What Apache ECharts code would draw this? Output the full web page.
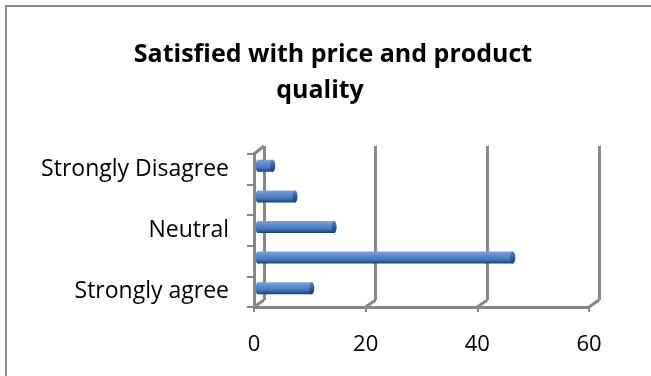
<!DOCTYPE html>
<html>
<head>
<meta charset="utf-8">
<script src="https://cdn.jsdelivr.net/npm/echarts@6/dist/echarts.min.js"></script>
<style>
  html, body { margin: 0; padding: 0; background: #ffffff; }
  #chart { width: 651px; height: 376px; }
</style>
</head>
<body>
<div id="chart"></div>
<script>
// Survey answers, bottom to top
const categories = ['Strongly agree', 'Agree', 'Neutral', 'Disagree', 'Strongly Disagree'];
const responses = [10, 46, 14, 7, 3];
const valueTicks = [0, 20, 40, 60];
const titleLines = ['Satisfied with price and product', 'quality'];

const FONT = '"Open Sans", "Liberation Sans", sans-serif';
const AXIS_GREY = '#878787';

// Plot geometry: front face, back wall, and the mid plane where the bars sit
const front = { left: 254, top: 154, width: 335, height: 153 };
const depth = { dx: 10, dy: -8 };
const back = { left: front.left + depth.dx, top: front.top + depth.dy, width: front.width, height: front.height + 1 };
const mid = { left: front.left + 2, top: front.top - 3.5, width: front.width, height: front.height };

const chart = echarts.init(document.getElementById('chart'), null, { renderer: 'canvas' });

const barFill = new echarts.graphic.LinearGradient(0, 0, 0, 1, [
  { offset: 0, color: '#7aa5de' },
  { offset: 0.3, color: '#5b8fd5' },
  { offset: 0.65, color: '#4678bd' },
  { offset: 0.85, color: '#2f5990' },
  { offset: 1, color: '#1f3c63' }
]);
const capFill = new echarts.graphic.LinearGradient(0, 0, 0, 1, [
  { offset: 0, color: '#5a86c2' },
  { offset: 0.5, color: '#335f98' },
  { offset: 1, color: '#1e3a60' }
]);

const BAR_H = 12;
const titleStyle = { fontFamily: FONT, fontWeight: 'bold', fontSize: 25, color: '#000000' };

const option = {
  animation: false,
  backgroundColor: '#ffffff',
  title: [
    { text: titleLines[0], left: 333, top: 42, textAlign: 'center', padding: 0, textStyle: titleStyle },
    { text: titleLines[1], left: 320, top: 78, textAlign: 'center', padding: 0, textStyle: titleStyle }
  ],
  grid: [
    Object.assign({ containLabel: false }, front),
    Object.assign({ containLabel: false }, back),
    Object.assign({ containLabel: false }, mid)
  ],
  xAxis: [
    {
      gridIndex: 0, type: 'value', min: valueTicks[0], max: valueTicks[valueTicks.length - 1],
      interval: valueTicks[1] - valueTicks[0],
      axisLine: { show: true, lineStyle: { color: AXIS_GREY, width: 3 } },
      axisTick: { show: true, length: 5, lineStyle: { color: AXIS_GREY, width: 2 } },
      splitLine: { show: false },
      axisLabel: { fontFamily: FONT, fontSize: 22, color: '#000000', margin: 27 }
    },
    {
      gridIndex: 1, type: 'value', min: valueTicks[0], max: valueTicks[valueTicks.length - 1],
      interval: valueTicks[1] - valueTicks[0],
      axisLine: { show: false }, axisTick: { show: false }, axisLabel: { show: false },
      splitLine: { show: true, lineStyle: { color: AXIS_GREY, width: 3 } }
    },
    {
      gridIndex: 2, type: 'value', min: valueTicks[0], max: valueTicks[valueTicks.length - 1],
      show: false
    }
  ],
  yAxis: [
    {
      gridIndex: 0, type: 'category', data: categories,
      axisLine: { show: true, lineStyle: { color: AXIS_GREY, width: 3 } },
      axisTick: { show: true, interval: 0, length: 7, lineStyle: { color: AXIS_GREY, width: 2 } },
      axisLabel: { interval: 1, fontFamily: FONT, fontSize: 23, color: '#000000', margin: 25, padding: [6, 0, 0, 0] },
      splitLine: { show: false }
    },
    { gridIndex: 1, type: 'category', data: categories, show: false },
    { gridIndex: 2, type: 'category', data: categories, show: false }
  ],
  series: [
    {
      type: 'custom',
      xAxisIndex: 2,
      yAxisIndex: 2,
      encode: { x: 0, y: 1 },
      data: responses.map((v, i) => [v, i]),
      renderItem: function (params, api) {
        const start = api.coord([0, api.value(1)]);
        const end = api.coord([api.value(0), api.value(1)]);
        const y = start[1] - BAR_H / 2;
        return {
          type: 'group',
          children: [
            { type: 'ellipse', shape: { cx: start[0] + 2, cy: start[1], rx: 2.5, ry: BAR_H / 2 }, style: { fill: barFill } },
            { type: 'rect', shape: { x: start[0] + 2, y: y, width: end[0] - start[0] - 2, height: BAR_H }, style: { fill: barFill } },
            { type: 'ellipse', shape: { cx: end[0], cy: end[1], rx: 2.5, ry: BAR_H / 2 }, style: { fill: capFill } }
          ]
        };
      }
    }
  ]
};

chart.setOption(option);

// Depth connectors: floor edges at each tick and the top-left edge of the side wall
function drawDepthEdges() {
  const frontBottom = front.top + front.height;
  const backBottom = back.top + back.height;
  const edges = valueTicks.map(function (v) {
    const xf = chart.convertToPixel({ xAxisIndex: 0 }, v);
    const xb = chart.convertToPixel({ xAxisIndex: 1 }, v);
    return {
      type: 'line', z: 5,
      shape: { x1: xf, y1: frontBottom, x2: xb, y2: backBottom },
      style: { stroke: AXIS_GREY, lineWidth: 3 }
    };
  });
  edges.push({
    type: 'line', z: 5,
    shape: { x1: front.left, y1: front.top, x2: back.left, y2: back.top },
    style: { stroke: AXIS_GREY, lineWidth: 3 }
  });
  edges.push({
    type: 'rect', z: 0,
    shape: { x: 6, y: 6, width: 700, height: 420 },
    style: { fill: null, stroke: '#8c8c8c', lineWidth: 2 }
  });
  chart.setOption({ graphic: edges });
}
drawDepthEdges();
</script>
</body>
</html>
